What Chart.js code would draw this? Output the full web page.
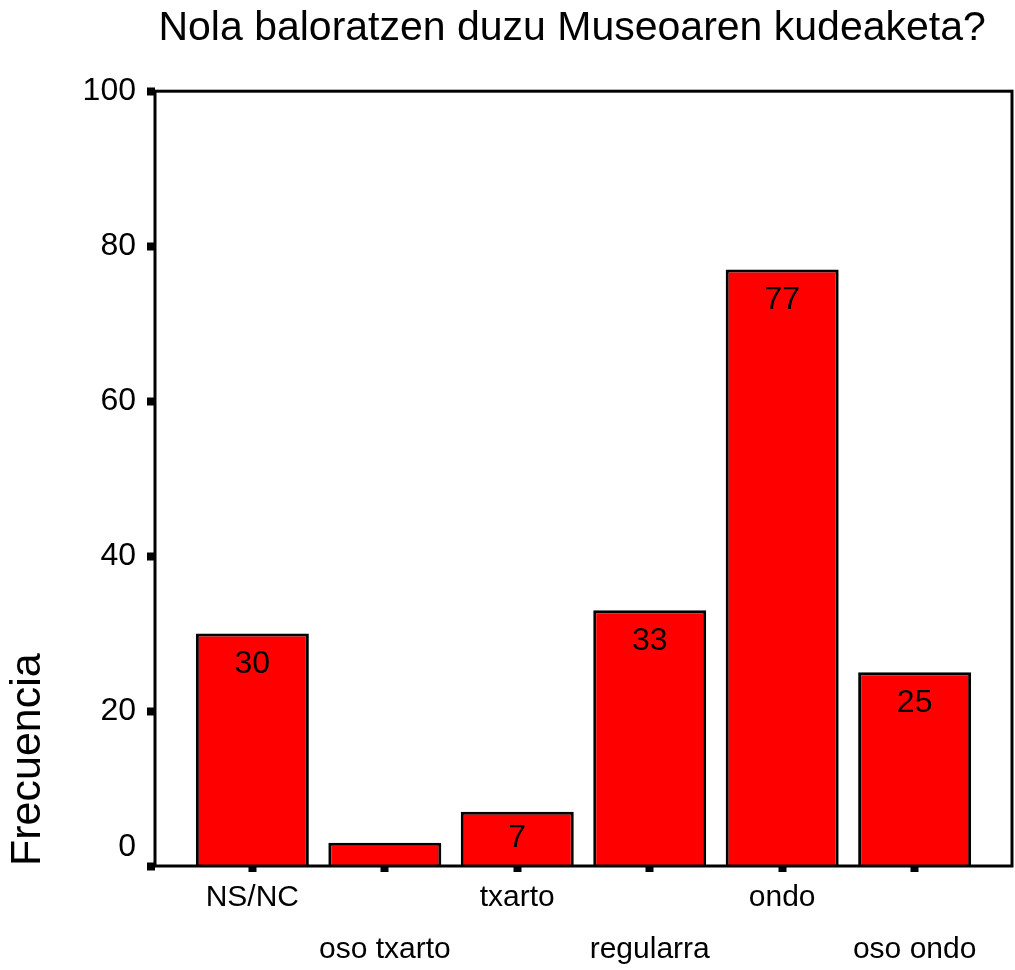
<!DOCTYPE html>
<html>
<head>
<meta charset="utf-8">
<script src="https://cdn.jsdelivr.net/npm/chart.js@4"></script>
<style>
  body { margin: 0; background: #fff; }
</style>
</head>
<body>
<canvas id="chart1" width="1015" height="970"></canvas>
<script>
const categories = ["NS/NC", "oso txarto", "txarto", "regularra", "ondo", "oso ondo"];
const frecuencia = [30, 3, 7, 33, 77, 25];
const yTicks = [0, 20, 40, 60, 80, 100];

const FONT = '"Liberation Sans", Arial, sans-serif';

// value labels inside the top of each bar, frame round the plot
const barLabels = {
  id: 'barLabels',
  afterDatasetsDraw(chart) {
    const ctx = chart.ctx;
    const meta = chart.getDatasetMeta(0);
    ctx.save();
    ctx.font = '32px ' + FONT;
    ctx.fillStyle = '#000';
    ctx.textAlign = 'center';
    ctx.textBaseline = 'middle';
    meta.data.forEach((bar, i) => {
      const h = bar.base - bar.y;
      if (h < 40) return;
      ctx.fillText(String(frecuencia[i]), bar.x, bar.y + Math.min(31, h / 2));
    });
    const a = chart.chartArea;
    ctx.strokeStyle = '#000';
    ctx.lineWidth = 3;
    ctx.strokeRect(a.left, a.top, a.right - a.left, a.bottom - a.top);
    ctx.restore();
  }
};

new Chart(document.getElementById("chart1"), {
  type: 'bar',
  data: {
    datasets: [{
      data: categories.map((c, i) => ({ x: i, y: frecuencia[i] })),
      backgroundColor: '#ff0000',
      borderColor: '#000',
      borderWidth: 3,
      barPercentage: 0.853,
      categoryPercentage: 1
    }]
  },
  plugins: [barLabels],
  options: {
    responsive: false,
    animation: false,
    layout: { padding: { left: 0, right: 3, top: 0, bottom: 0 } },
    plugins: {
      legend: { display: false },
      tooltip: { enabled: false },
      title: {
        display: true,
        fullSize: false,
        text: 'Nola baloratzen duzu Museoaren kudeaketa?  ',
        color: '#000',
        font: { family: FONT, size: 41, weight: 'normal' },
        padding: { top: 4, bottom: 38 }
      }
    },
    scales: {
      x: {
        type: 'linear',
        offset: false,
        min: -0.735,
        max: 5.735,
        afterBuildTicks: s => { s.ticks = categories.map((c, i) => ({ value: i })); },
        afterFit: s => { s.height = 104; },
        border: { display: false },
        grid: { offset: false, drawOnChartArea: false, drawTicks: true, tickLength: 6, tickWidth: 8, tickColor: '#000' },
        ticks: {
          autoSkip: false,
          maxRotation: 0,
          minRotation: 0,
          padding: 0,
          color: '#000',
          font: { family: FONT, size: 30, lineHeight: 1.73 },
          callback: v => (v % 2 === 1 ? ['', categories[v]] : categories[v])
        }
      },
      y: {
        min: 0,
        max: 100,
        afterBuildTicks: s => { s.ticks = yTicks.map(v => ({ value: v })); },
        afterFit: s => { s.width = 155; },
        border: { display: false },
        grid: { drawOnChartArea: false, drawTicks: true, tickLength: 8, tickWidth: 8, tickColor: '#000' },
        ticks: {
          padding: 11,
          color: '#000',
          font: { family: FONT, size: 32 },
          callback: v => (v === 0 ? ['0', ''] : String(v))
        },
        title: {
          display: true,
          text: 'Frecuencia',
          align: 'start',
          color: '#000',
          padding: { top: 2, bottom: 0 },
          font: { family: FONT, size: 43 }
        }
      }
    }
  }
});
</script>
</body>
</html>
